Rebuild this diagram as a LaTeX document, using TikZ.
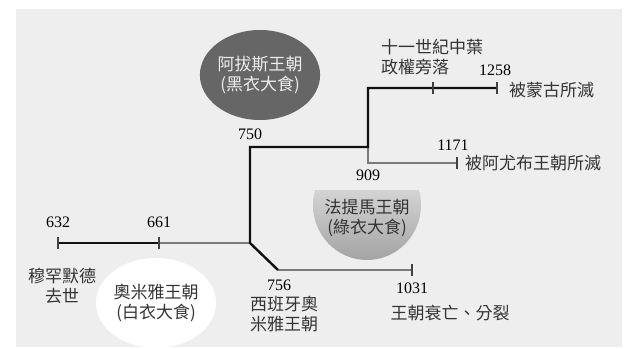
\documentclass[tikz,border=0pt]{standalone}
\usepackage{fontspec}
\setmainfont{Liberation Serif}
\newfontfamily\cjk{Noto Sans CJK TC}
\usepackage{xcolor}
\definecolor{panel}{HTML}{EEEEEE}
\definecolor{lineblack}{HTML}{111111}
\definecolor{linegrey}{HTML}{7A7A7A}
\definecolor{txt}{HTML}{333333}
\definecolor{abbasid}{HTML}{666666}
\usetikzlibrary{shapes.geometric, positioning}

\begin{document}
\begin{tikzpicture}[x=1pt, y=-1pt,
  blk/.style={line width=2.4pt, draw=lineblack, line join=miter},
  gry/.style={line width=2pt, draw=linegrey},
  tickmark/.style={line width=1.2pt, draw=lineblack!80},
  year/.style={font=\fontsize{16}{18}\selectfont, text=black, inner sep=0pt},
  note/.style={font=\cjk\fontsize{17}{20}\selectfont, text=txt, inner sep=0pt, align=center},
  dynasty/.style={ellipse, inner sep=0pt, font=\cjk\fontsize{17}{20}\selectfont, align=center}]
  % 背景
  \useasboundingbox (0,0) rectangle (629,348);
  \fill[white] (0,0) rectangle (629,348);
  \fill[panel] (16,9) rectangle (622,347);
  % 王朝
  \node[dynasty, fill=abbasid, text=panel, minimum width=106pt, minimum height=90pt] (abbasid) at (260,75) {阿拔斯王朝\\(黑衣大食)};
  \node[dynasty, fill=white, text=txt, minimum width=98pt, minimum height=90pt] (umayyad) at (156,303) {奧米雅王朝\\(白衣大食)};
  \begin{scope}
    \clip (300,190) rectangle (440,270);
    \shade[top color=black!6, middle color=black!22, bottom color=black!36] (367,205) ellipse (54 and 55);
  \end{scope}
  \node[note] (fatimid) at (367,218) {法提馬王朝\\(綠衣大食)};
  % 時間點
  \coordinate (p632) at (58,243);
  \coordinate (p661) at (159,243);
  \coordinate (p750) at (250,243);
  \coordinate (p750top) at (250,147);
  \coordinate (p909) at (368,147);
  \coordinate (p909top) at (368,88);
  \coordinate (p1050) at (433,88);
  \coordinate (p1258) at (497,88);
  \coordinate (p909low) at (368,163);
  \coordinate (p1171) at (457,163);
  \coordinate (p756) at (278,270);
  \coordinate (p1031) at (412,270);
  % 線
  \draw[gry] (p661) -- (p750);
  \draw[gry] (p756) -- (p1031);
  \draw[gry] (p909) -- (p909low) -- (p1171);
  \draw[blk] (p632) -- (p661);
  \draw[blk] (p756) -- (p750) -- (p750top) -- (p909) -- (p909top) -- (p1258);
  \foreach \p in {p632, p661, p1050, p1258, p1171, p1031}
    \draw[tickmark] ([yshift=-6pt]\p) -- ([yshift=6pt]\p);
  % 年份
  \node[year] (y632) at (58,222) {632};
  \node[year] (y661) at (159,222) {661};
  \node[year] (y750) at (250,134) {750};
  \node[year] (y756) at (279,285) {756};
  \node[year] (y909) at (368,175) {909};
  \node[year] (y1031) at (412,288) {1031};
  \node[year] (y1171) at (453,145) {1171};
  \node[year] (y1258) at (495,70) {1258};
  % 說明
  \node[note] (muhammad) at (62,286) {穆罕默德\\去世};
  \node[note, anchor=north west] (spain) at (250,296) {西班牙奧\\米雅王朝};
  \node[note] (split) at (450,313) {王朝衰亡、分裂};
  \node[note, anchor=west] (ayyub) at (465,163) {被阿尤布王朝所滅};
  \node[note, anchor=west] (mongol) at (509,90) {被蒙古所滅};
  \node[note, align=left, anchor=north west] (decline) at (381,39) {十一世紀中葉\\政權旁落};
\end{tikzpicture}
\end{document}
